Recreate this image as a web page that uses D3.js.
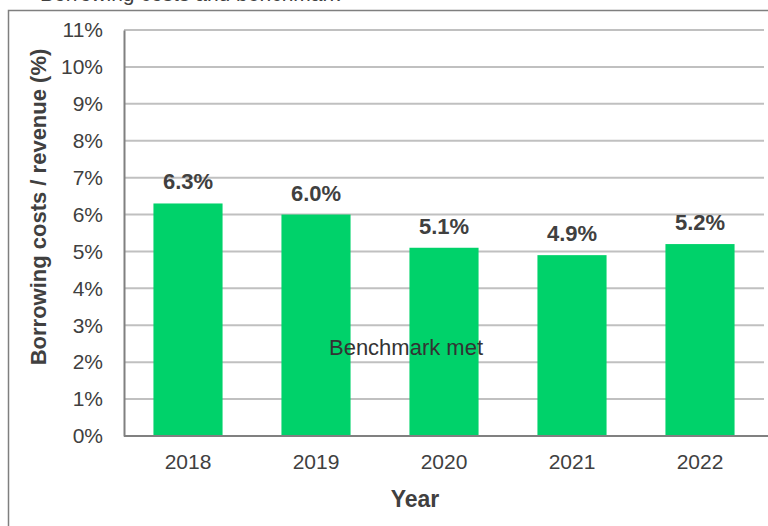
<!DOCTYPE html>
<html>
<head>
<meta charset="utf-8">
<script src="https://cdn.jsdelivr.net/npm/d3@7"></script>
<style>
  body { margin: 0; background: #fff; }
  svg { display: block; font-family: "Liberation Sans", Arial, sans-serif; }
</style>
</head>
<body>
<div id="viz"></div>
<script>
// chart data
var years = ["2018", "2019", "2020", "2021", "2022"];
var ratios = [6.3, 6.0, 5.1, 4.9, 5.2];
var yTicks = [0, 1, 2, 3, 4, 5, 6, 7, 8, 9, 10, 11];
var noteText = "Benchmark met";

var W = 768, H = 526;
var margin = { top: 30, right: 4, bottom: 90, left: 124 },
    width = W - margin.left - margin.right,
    height = H - margin.top - margin.bottom;

var root = d3.select("#viz")
  .append("svg")
  .attr("width", W)
  .attr("height", H);

// caption above the frame, mostly cropped off the top edge
root.append("text")
  .attr("x", 40)
  .attr("y", 1)
  .attr("font-size", 21)
  .attr("fill", "#404040")
  .text("Borrowing costs and benchmark");

// outer frame (runs off the page on right and bottom)
root.append("rect")
  .attr("x", 8.5)
  .attr("y", 10.5)
  .attr("width", W)
  .attr("height", H)
  .attr("fill", "none")
  .attr("stroke", "#7f7f7f")
  .attr("stroke-width", 1.5);

var svg = root.append("g")
  .attr("transform", "translate(" + margin.left + "," + margin.top + ")");

var x = d3.scaleBand().domain(years).range([0, width]).paddingInner(0.46).paddingOuter(0.23);
var y = d3.scaleLinear().domain([0, 11]).range([height, 0]);

// gridlines
svg.append("g")
  .selectAll("line")
  .data(yTicks.filter(d => d > 0))
  .join("line")
  .attr("x1", 0)
  .attr("x2", width)
  .attr("y1", d => y(d))
  .attr("y2", d => y(d))
  .attr("stroke", "#c0c0c0")
  .attr("stroke-width", 2);

// y axis
var yAxis = svg.append("g")
  .call(d3.axisLeft(y).tickValues(yTicks).tickSize(0).tickPadding(21).tickFormat(d => d + "%"));
yAxis.select(".domain").attr("stroke", "#808080").attr("stroke-width", 2);
yAxis.selectAll("text").attr("font-size", 21).attr("fill", "#404040").attr("font-family", "Liberation Sans, Arial, sans-serif");

// bars
svg.append("g")
  .selectAll("rect")
  .data(ratios)
  .join("rect")
  .attr("x", (d, i) => x(years[i]))
  .attr("y", d => y(d))
  .attr("width", x.bandwidth())
  .attr("height", d => height - y(d))
  .attr("fill", "#00d26a");

// x axis
var xAxis = svg.append("g")
  .attr("transform", "translate(0," + height + ")")
  .call(d3.axisBottom(x).tickSize(0).tickPadding(18));
xAxis.select(".domain").attr("stroke", "#808080").attr("stroke-width", 2).attr("d", "M0,0H" + (width + 4));
xAxis.selectAll("text").attr("font-size", 21).attr("fill", "#404040").attr("font-family", "Liberation Sans, Arial, sans-serif");

// value labels
svg.append("g")
  .selectAll("text")
  .data(ratios)
  .join("text")
  .attr("x", (d, i) => x(years[i]) + x.bandwidth() / 2)
  .attr("y", d => y(d) - 14)
  .attr("text-anchor", "middle")
  .attr("font-size", 22)
  .attr("font-weight", "bold")
  .attr("fill", "#404040")
  .text(d => d.toFixed(1) + "%");

// note inside chart
svg.append("text")
  .attr("x", 282)
  .attr("y", y(2.2))
  .attr("text-anchor", "middle")
  .attr("font-size", 22)
  .attr("fill", "#333")
  .text(noteText);

// x-axis label
root.append("text")
  .attr("x", 415)
  .attr("y", 507)
  .attr("text-anchor", "middle")
  .attr("font-size", 23)
  .attr("font-weight", "bold")
  .attr("fill", "#404040")
  .text("Year");

// y-axis label
root.append("text")
  .attr("transform", "translate(46,207) rotate(-90)")
  .attr("text-anchor", "middle")
  .attr("font-size", 22)
  .attr("font-weight", "bold")
  .attr("fill", "#404040")
  .text("Borrowing costs / revenue (%)");
</script>
</body>
</html>
